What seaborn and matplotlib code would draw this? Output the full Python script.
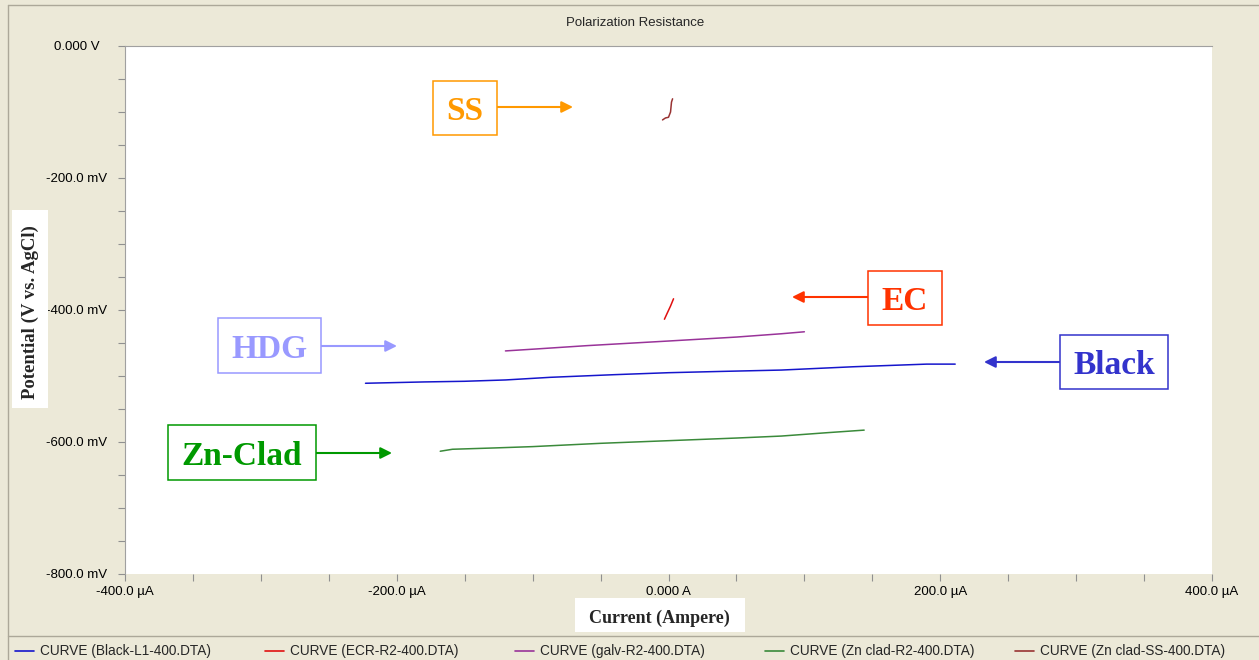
import numpy as np
import pandas as pd
import matplotlib
matplotlib.use("Agg")
import matplotlib.pyplot as plt
import seaborn as sns
from matplotlib.patches import Rectangle
from matplotlib.lines import Line2D

# curve data, current in uA, potential in mV
black_current = [-223, -180, -150, -120, -87, -40, 0, 40, 83, 136, 190, 211]
black_potential = [-511, -509, -508, -506, -502, -498, -495, -493, -491, -486, -482, -482]

ecr_current = [-3.0, -1.0, 1.5, 3.7]
ecr_potential = [-414, -405, -394, -383]

galv_current = [-120, -97, -60, 0, 50, 83, 100]
galv_potential = [-462, -459, -454, -447, -441, -436, -433]

znr2_current = [-168, -159, -128, -100, -50, 0, 50, 83, 116, 144]
znr2_potential = [-614, -611, -609, -607, -602, -598, -594, -591, -586, -582]

znss_current = [-4.4, -2.2, 0.0, 1.5, 2.2, 3.0]
znss_potential = [-112, -109, -108, -100, -85, -80]

curve_names = ["CURVE (Black-L1-400.DTA)", "CURVE (ECR-R2-400.DTA)",
               "CURVE (galv-R2-400.DTA)", "CURVE (Zn clad-R2-400.DTA)",
               "CURVE (Zn clad-SS-400.DTA)"]
curve_colors = ["#1515cc", "#e01010", "#993399", "#3a8a3a", "#993333"]

x_ticks = [-400, -200, 0, 200, 400]
x_ticklabels = ["-400.0 µA", "-200.0 µA", "0.000 A", "200.0 µA", "400.0 µA"]
y_ticks = [0, -200, -400, -600, -800]
y_ticklabels = ["0.000 V", "-200.0 mV", "-400.0 mV", "-600.0 mV", "-800.0 mV"]

# callout labels: text, box (x0, y0, x1, y1) in pixels from top-left, arrow start/end, colour
callouts = [
    ("SS", (433, 81, 497, 135), (497, 107), (573, 107), "#ff9900"),
    ("EC", (868, 271, 942, 325), (868, 297), (792, 297), "#ff3300"),
    ("HDG", (218, 318, 321, 373), (321, 346), (397, 346), "#9999ff"),
    ("Zn-Clad", (168, 425, 316, 480), (316, 453), (392, 453), "#009900"),
    ("Black", (1060, 335, 1168, 389), (1060, 362), (984, 362), "#3333cc"),
]

series = [black_current, ecr_current, galv_current, znr2_current, znss_current]
values = [black_potential, ecr_potential, galv_potential, znr2_potential, znss_potential]
frames = []
for name, xs, ys in zip(curve_names, series, values):
    frames.append(pd.DataFrame({"current": xs, "potential": ys, "curve": name}))
df = pd.concat(frames, ignore_index=True)

sns.set_style("white")
plt.rcParams["font.family"] = ["Liberation Sans", "DejaVu Sans"]

W, H = 1259, 660
bg = "#ece9d8"
fig = plt.figure(figsize=(W / 100, H / 100), dpi=100, facecolor=bg)
ax = fig.add_axes([125 / W, 1 - 574 / H, (1212 - 125) / W, (574 - 46) / H])
ax.set_facecolor("white")

sns.lineplot(data=df, x="current", y="potential", hue="curve", hue_order=curve_names,
             palette=curve_colors, sort=False, estimator=None, lw=1.1,
             legend=False, ax=ax)

ax.set_xlim(-400, 400)
ax.set_ylim(-800, 0)
ax.set_xticks(x_ticks)
ax.set_xticklabels(x_ticklabels)
ax.set_xticks(np.arange(-400, 401, 50), minor=True)
ax.set_yticks(y_ticks)
ax.set_yticklabels(y_ticklabels, ha="center")
ax.set_yticks(np.arange(-800, 1, 50), minor=True)
ax.tick_params(which="both", direction="out", length=5, width=0.8, color="#909090",
               labelsize=9.5, labelcolor="black")
ax.tick_params(axis="x", which="major", pad=3.5)
ax.tick_params(axis="y", which="major", pad=30)
ax.tick_params(which="both", bottom=True, left=True)
ax.set_xlabel("")
ax.set_ylabel("")
for side in ["right", "bottom"]:
    ax.spines[side].set_visible(False)
for side in ["top", "left"]:
    ax.spines[side].set_color("#a0a0a0")
    ax.spines[side].set_linewidth(0.8)

fig.text(635 / W, 1 - 23 / H, "Polarization Resistance", ha="center", va="center",
         fontsize=9.5)

# window frame and legend separator
fig.add_artist(Line2D([8 / W, 8 / W], [0, 1 - 5 / H], transform=fig.transFigure,
                      color="#aca899", lw=1))
fig.add_artist(Line2D([8 / W, 1], [1 - 5 / H, 1 - 5 / H], transform=fig.transFigure,
                      color="#aca899", lw=1))
fig.add_artist(Line2D([8 / W, 1], [1 - 636 / H, 1 - 636 / H], transform=fig.transFigure,
                      color="#aca899", lw=1))

# axis titles in white boxes
fig.add_artist(Rectangle((12 / W, 1 - 408 / H), 36 / W, 198 / H, transform=fig.transFigure,
                         facecolor="white", edgecolor="none", zorder=5))
fig.text(30 / W, 1 - 312 / H, "Potential (V vs. AgCl)", rotation=90, ha="center",
         va="center", fontsize=13.5, fontweight="bold", family="Liberation Serif", zorder=6)
fig.add_artist(Rectangle((575 / W, 1 - 632 / H), 170 / W, 34 / H, transform=fig.transFigure,
                         facecolor="white", edgecolor="none", zorder=5))
fig.text(659 / W, 1 - 618 / H, "Current (Ampere)", ha="center", va="center",
         fontsize=13, fontweight="bold", family="Liberation Serif", zorder=6)

# legend strip
for i, (name, color) in enumerate(zip(curve_names, curve_colors)):
    x0 = 15 + 250 * i
    yl = 1 - 651 / H
    fig.add_artist(Line2D([x0 / W, (x0 + 19) / W], [yl, yl], transform=fig.transFigure,
                          color=color, lw=1.2))
    fig.text((x0 + 25) / W, yl, name, ha="left", va="center", fontsize=9.8)

# callouts
for text, (x0, y0, x1, y1), start, end, color in callouts:
    fig.add_artist(Rectangle((x0 / W, 1 - y1 / H), (x1 - x0) / W, (y1 - y0) / H,
                             transform=fig.transFigure, facecolor="white",
                             edgecolor=color, lw=1.1, zorder=5))
    fig.text((x0 + x1) / 2 / W, 1 - ((y0 + y1) / 2 + 4) / H, text, ha="center",
             va="center", fontsize=24, fontweight="bold", family="Liberation Serif",
             color=color, zorder=6)
    ax.annotate("", xy=(end[0], H - end[1]), xytext=(start[0], H - start[1]),
                xycoords="figure pixels", textcoords="figure pixels",
                arrowprops=dict(arrowstyle="-|>", color=color, lw=1.5,
                                mutation_scale=17, shrinkA=0, shrinkB=0))

fig.savefig("out.png", dpi=100, facecolor=bg)
